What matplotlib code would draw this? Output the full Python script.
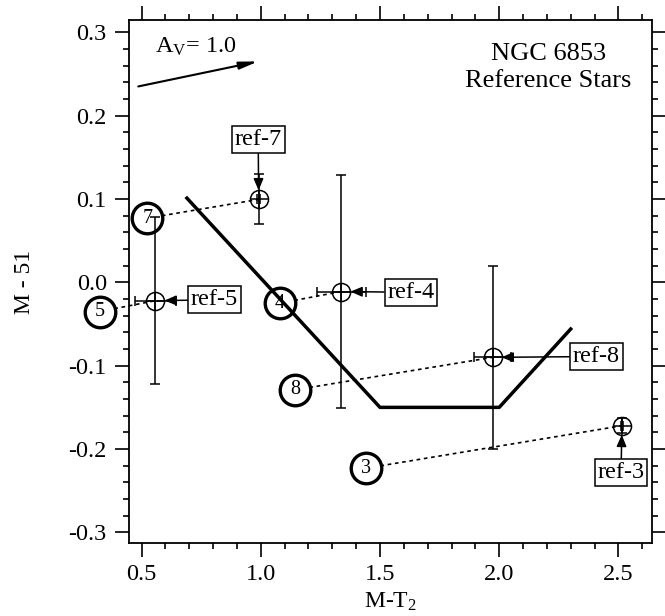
import matplotlib
matplotlib.use("Agg")
import matplotlib.pyplot as plt
from matplotlib.ticker import MultipleLocator, FormatStrFormatter

plt.rcParams['font.family'] = ['Liberation Serif', 'DejaVu Serif']
plt.rcParams['mathtext.fontset'] = 'custom'
plt.rcParams['mathtext.rm'] = 'Liberation Serif'
plt.rcParams['mathtext.it'] = 'Liberation Serif:italic'
plt.rcParams['axes.unicode_minus'] = False

# ---- data ----
ref_names = ['ref-3', 'ref-4', 'ref-5', 'ref-7', 'ref-8']
ref_x = [2.515, 1.338, 0.558, 0.991, 1.972]
ref_y = [-0.172, -0.011, -0.022, 0.0995, -0.090]
ref_xerr = [0.006, 0.102, 0.086, 0.006, 0.078]
ref_yerr = [0.009, 0.140, 0.100, 0.030, 0.110]
ref_label_x = [2.511, 1.630, 0.806, 0.989, 2.408]
ref_label_y = [-0.228, -0.012, -0.021, 0.171, -0.089]

circ_labels = ['3', '4', '5', '7', '8']
circ_x = [1.441, 1.080, 0.325, 0.524, 1.143]
circ_y = [-0.223, -0.025, -0.035, 0.077, -0.129]

track_x = [0.69, 1.5, 2.0, 2.3]
track_y = [0.101, -0.15, -0.15, -0.056]

av_start = (0.486, 0.235)
av_end = (0.989, 0.265)

xticks = [0.5, 1.0, 1.5, 2.0, 2.5]
yticks = [-0.3, -0.2, -0.1, 0.0, 0.1, 0.2, 0.3]

# ---- figure ----
fig = plt.figure(figsize=(6.65, 6.16), dpi=100)
ax = fig.add_axes([129/665, (616-543)/616, 523/665, 523/616])
ax.set_xlim(0.447, 2.641)
ax.set_ylim(-0.3127, 0.3147)

for s in ax.spines.values():
    s.set_linewidth(1.3)

ax.set_xticks(xticks)
ax.set_yticks(yticks)
ax.xaxis.set_minor_locator(MultipleLocator(0.1))
ax.yaxis.set_minor_locator(MultipleLocator(0.02))
ax.xaxis.set_major_formatter(FormatStrFormatter('%.1f'))
ax.yaxis.set_major_formatter(FormatStrFormatter('%.1f'))
ax.tick_params(which='both', direction='out', top=True, right=True,
               width=1.2, labelsize=17.5)
ax.tick_params(which='major', length=10)
ax.tick_params(which='minor', length=4.5)
ax.tick_params(axis='x', which='major', pad=5)
ax.tick_params(axis='y', which='major', pad=6)

ax.set_xlabel('M-T$_2$', fontsize=17)
ax.set_ylabel('M - 51', fontsize=17)
ax.yaxis.set_label_coords(-0.18, 0.5)
ax.xaxis.set_label_coords(0.5, -0.092)

# dotted connectors from circles to reference stars
order = {'3': 'ref-3', '4': 'ref-4', '5': 'ref-5', '7': 'ref-7', '8': 'ref-8'}
for lab, cx, cy in zip(circ_labels, circ_x, circ_y):
    i = ref_names.index(order[lab])
    ax.plot([cx, ref_x[i]], [cy, ref_y[i]], color='black', lw=1.2,
            ls=(0, (2.2, 2.2)), zorder=1, clip_on=False)

# numbered circles
ax.plot(circ_x, circ_y, 'o', ms=22, mfc='white', mec='black', mew=2.4,
        zorder=2, clip_on=False, ls='none')
for lab, cx, cy in zip(circ_labels, circ_x, circ_y):
    ax.text(cx, cy, lab, ha='center', va='center', fontsize=14.5, zorder=2.5,
            clip_on=False)

# thick line
ax.plot(track_x, track_y, color='black', lw=2.5, zorder=3)

# reference stars with error bars
ax.errorbar(ref_x, ref_y, xerr=ref_xerr, yerr=ref_yerr, fmt='none',
            ecolor='black', elinewidth=1.1, capsize=3.6, capthick=1.1, zorder=3)
ax.plot(ref_x, ref_y, 'o', ms=13, mfc='none', mec='black', mew=1.1, zorder=4)
ax.plot(ref_x, ref_y, '+', ms=13, mec='black', mew=1.1, zorder=4)

for name, x, y, tx, ty in zip(ref_names, ref_x, ref_y, ref_label_x, ref_label_y):
    ax.annotate(name, xy=(x, y), xytext=(tx, ty), ha='center', va='center',
                fontsize=17.5, zorder=5,
                bbox=dict(boxstyle='square,pad=0.12', fc='white', ec='black', lw=1.1),
                arrowprops=dict(arrowstyle='-|>,head_length=0.4,head_width=0.17',
                                color='black', lw=1.1, shrinkA=0, shrinkB=6.5))

# reddening vector
ax.annotate('', xy=av_end, xytext=av_start,
            arrowprops=dict(arrowstyle='-|>,head_length=1.1,head_width=0.22',
                            color='black', lw=1.5, shrinkA=0, shrinkB=0))
ax.text(0.556, 0.2749, 'A$_\\mathrm{V}$= 1.0', fontsize=17.5, ha='left', va='baseline')

ax.text(2.206, 0.2666, 'NGC 6853', fontsize=19, ha='center', va='baseline')
ax.text(2.206, 0.2346, 'Reference Stars', fontsize=19, ha='center', va='baseline')

fig.savefig('out.png', dpi=100)
